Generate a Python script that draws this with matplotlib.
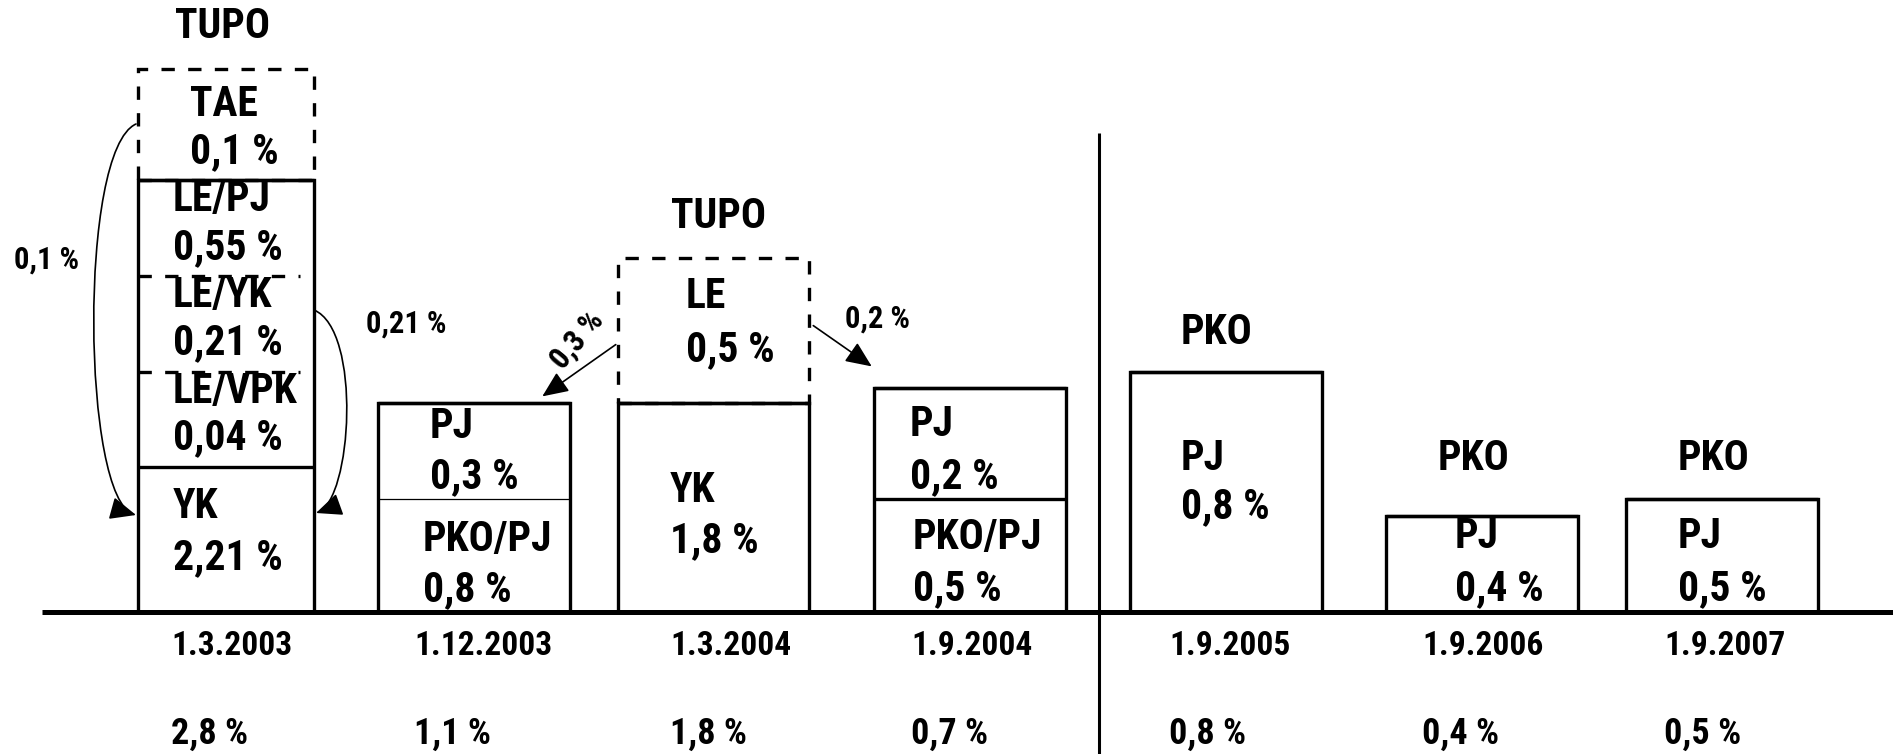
import matplotlib
matplotlib.use('Agg')
import matplotlib.pyplot as plt
from matplotlib.patches import FancyArrowPatch
from matplotlib.path import Path

# ---------------- data ----------------
dates = ['1.3.2003', '1.12.2003', '1.3.2004', '1.9.2004', '1.9.2005', '1.9.2006', '1.9.2007']
totals = [2.8, 1.1, 1.8, 0.7, 0.8, 0.4, 0.5]
headers = ['TUPO', '', 'TUPO', '', 'PKO', 'PKO', 'PKO']

seg_names = [['YK', 'LE/VPK', 'LE/YK', 'LE/PJ', 'TAE'],
             ['PKO/PJ', 'PJ'],
             ['YK', 'LE'],
             ['PKO/PJ', 'PJ'],
             ['PJ'], ['PJ'], ['PJ']]
seg_values = [[2.21, 0.04, 0.21, 0.55, 0.1],
              [0.8, 0.3],
              [1.8, 0.5],
              [0.5, 0.2],
              [0.8], [0.4], [0.5]]
transfer_values = [0.1, 0.21, 0.3, 0.2]

def pct(v):
    return ('%g' % v).replace('.', ',') + ' %'

# ---------------- layout (diagram is not to scale) ----------------
bar_left = [138, 378, 618, 874, 1130, 1386, 1626]
bar_width = [176, 192, 191, 192, 192, 192, 192]
seg_heights = [[145, 95, 96, 96, 111], [113, 96], [209, 145], [113, 111], [240], [96], [113]]
seg_top = [['solid', 'dash', 'dash', 'solid', 'box'],
           ['thin', 'solid'],
           ['solid', 'box'],
           ['solid', 'solid'],
           ['solid'], ['solid'], ['solid']]
txt_dx = [[35, 35, 35, 35, 52], [45, 52], [52, 68], [39, 36], [51], [69], [52]]
txt_y = [[(507, 558), (391, 438), (295, 343), (200, 248), (104, 152)],
         [(540, 590), (427, 477)],
         [(490, 541), (297, 350)],
         [(538, 589), (425, 477)],
         [(458, 507)], [(536, 589)], [(536, 589)]]
header_pos = [(175, 27), None, (671, 217), None, (1181, 332), (1438, 459), (1678, 459)]
label_x = [171, 414, 670, 911, 1169, 1422, 1664]
BASE = 612

def Y(py):
    return BASE - py

plt.rcParams['font.family'] = ['Roboto Condensed', 'Liberation Sans', 'DejaVu Sans']
plt.rcParams['font.weight'] = 'bold'
FS_BOX, FS_HEAD, FS_DATE, FS_TOT, FS_SIDE = 30, 30, 24, 26, 22

fig = plt.figure(figsize=(18.93, 7.54), dpi=100)
ax = fig.add_axes([0, 0, 1, 1])
ax.set_xlim(0, 1893)
ax.set_ylim(-142, 612)
ax.axis('off')

LW = 2.4
for i in range(len(dates)):
    x0, w = bar_left[i], bar_width[i]
    bottom = 0
    solid_h = sum(h for h, s in zip(seg_heights[i], seg_top[i]) if s != 'box')
    ax.bar(x0, solid_h, width=w, bottom=0, align='edge', fill=False,
           edgecolor='black', linewidth=LW, zorder=3)
    for j, (h, st) in enumerate(zip(seg_heights[i], seg_top[i])):
        top = bottom + h
        if st == 'box':
            ax.bar(x0, h, width=w, bottom=bottom, align='edge', fill=False,
                   edgecolor='black', linewidth=LW, linestyle=(0, (4, 4)), zorder=3)
        elif st == 'dash':
            ax.hlines(top, x0, x0 + w - 14, colors='black', linewidth=LW,
                      linestyles=(0, (4, 4)), zorder=3)
        elif st == 'thin':
            ax.hlines(top, x0, x0 + w, colors='black', linewidth=0.9, zorder=3)
        else:
            ax.hlines(top, x0, x0 + w, colors='black', linewidth=LW, zorder=3)
        ny, vy = txt_y[i][j]
        ax.text(x0 + txt_dx[i][j], Y(ny), seg_names[i][j], fontsize=FS_BOX,
                ha='left', va='center', zorder=4)
        ax.text(x0 + txt_dx[i][j], Y(vy), pct(seg_values[i][j]), fontsize=FS_BOX,
                ha='left', va='center', zorder=4)
        bottom = top
    if headers[i]:
        hx, hy = header_pos[i]
        ax.text(hx, Y(hy), headers[i], fontsize=FS_HEAD, ha='left', va='center')
    ax.text(label_x[i], Y(646), dates[i], fontsize=FS_DATE, ha='left', va='center')
    ax.text(label_x[i], Y(734), pct(totals[i]), fontsize=FS_TOT, ha='left', va='center')

ax.hlines(0, 42, 1893, colors='black', linewidth=3.6, zorder=5)
ax.vlines(1099, -142, Y(133), colors='black', linewidth=2.2, zorder=5)

astyle = '-|>,head_length=0.8,head_width=0.35'
curve_left = Path([(136, Y(124)), (78, Y(150)), (82, Y(500)), (136, Y(515))],
                  [Path.MOVETO, Path.CURVE4, Path.CURVE4, Path.CURVE4])
ax.add_patch(FancyArrowPatch(path=curve_left, arrowstyle=astyle, mutation_scale=20,
                             color='black', linewidth=1.2, zorder=6))
curve_right = Path([(314, Y(310)), (362, Y(330)), (352, Y(500)), (316, Y(513))],
                   [Path.MOVETO, Path.CURVE4, Path.CURVE4, Path.CURVE4])
ax.add_patch(FancyArrowPatch(path=curve_right, arrowstyle=astyle, mutation_scale=20,
                             color='black', linewidth=1.2, zorder=6))
ax.add_patch(FancyArrowPatch((618, Y(343)), (540, Y(398)), arrowstyle=astyle,
                             mutation_scale=20, color='black', linewidth=1.2, zorder=6))
ax.add_patch(FancyArrowPatch((811, Y(324)), (874, Y(368)), arrowstyle=astyle,
                             mutation_scale=20, color='black', linewidth=1.2, zorder=6))

ax.text(14, Y(260), pct(transfer_values[0]), fontsize=FS_SIDE, ha='left', va='center')
ax.text(366, Y(324), pct(transfer_values[1]), fontsize=FS_SIDE, ha='left', va='center')
ax.text(577, Y(340), pct(transfer_values[2]), fontsize=FS_SIDE, ha='center', va='center',
        rotation=50)
ax.text(845, Y(319), pct(transfer_values[3]), fontsize=FS_SIDE, ha='left', va='center')

fig.savefig('out.png', dpi=100)
